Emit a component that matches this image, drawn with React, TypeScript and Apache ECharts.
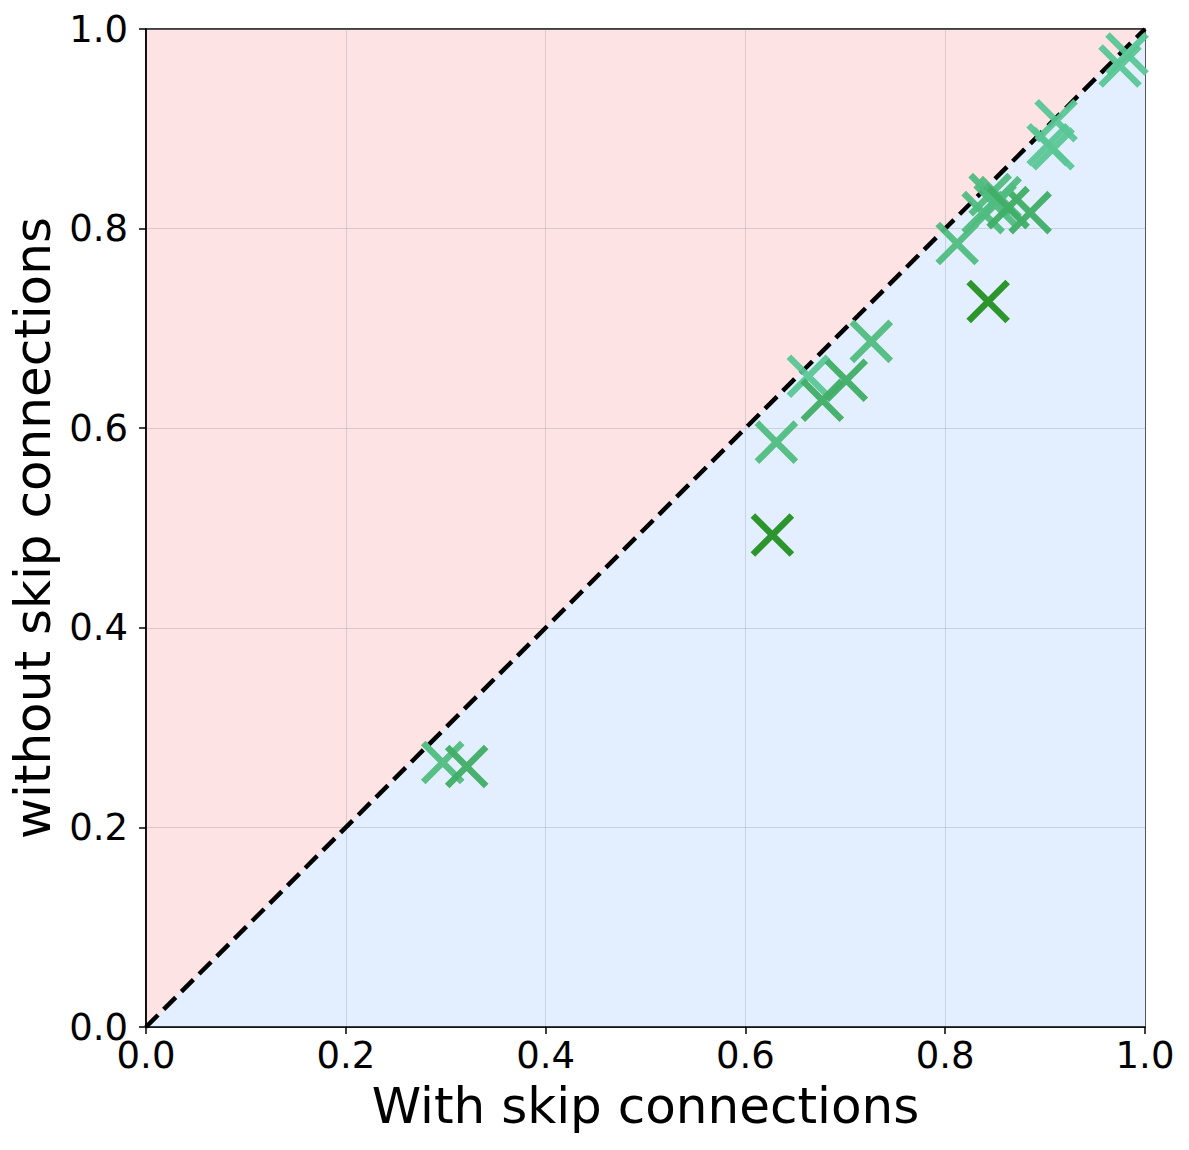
import React, { useEffect, useRef } from "react";
import * as echarts from "echarts";

// Accuracy of each run, with and without skip connections
const withSkip = [0.297, 0.321, 0.627, 0.631, 0.663, 0.677, 0.701, 0.726, 0.812, 0.838, 0.845, 0.850, 0.855, 0.863, 0.885, 0.843, 0.903, 0.908, 0.911, 0.975, 0.982];
const withoutSkip = [0.265, 0.261, 0.493, 0.586, 0.652, 0.628, 0.648, 0.687, 0.785, 0.816, 0.834, 0.824, 0.831, 0.821, 0.816, 0.727, 0.884, 0.880, 0.908, 0.963, 0.975];
// Shade index of each run's marker
const tone = [2, 1, 0, 2, 3, 1, 1, 2, 2, 2, 2, 2, 2, 1, 1, 0, 3, 3, 3, 3, 3];
const toneColors = ["rgba(40,148,40,0.98)", "rgba(66,174,104,0.96)", "rgba(80,188,128,0.95)", "rgba(90,198,150,0.95)"];

const diagonal = [[0, 0], [1, 1]];

const FONT = "DejaVu Sans";
const CROSS = "path://M0,0L10,10M0,10L10,0";

export default function App() {
  const ref = useRef<HTMLDivElement>(null);

  useEffect(() => {
    document.body.style.margin = "0";
    const chart = echarts.init(ref.current!, null, { renderer: "svg" });

    const axisCommon = {
      type: "value" as const,
      min: 0,
      max: 1,
      interval: 0.2,
      z: 3,
      axisLine: { show: true, onZero: false, lineStyle: { color: "#000", width: 1.5 } },
      axisTick: { show: true, inside: false, length: 7, lineStyle: { color: "#000", width: 1.5 } },
      splitLine: { show: true, lineStyle: { color: "rgba(140,140,155,0.3)", width: 1 } },
      nameLocation: "middle" as const,
      nameTextStyle: { fontFamily: FONT, fontSize: 50, color: "#000" },
    };

    chart.setOption({
      animation: false,
      grid: {
        left: 146,
        right: 44,
        top: 29,
        bottom: 123,
        show: true,
        backgroundColor: "#fee3e5",
        borderColor: "#000",
        borderWidth: 1.5,
      },
      xAxis: {
        ...axisCommon,
        name: "With skip connections",
        nameGap: 54,
        axisLabel: {
          fontFamily: FONT,
          fontSize: 37,
          color: "#000",
          margin: 10,
          formatter: (v: number) => v.toFixed(1),
        },
      },
      yAxis: {
        ...axisCommon,
        name: "without skip connections",
        nameGap: 80,
        axisLabel: {
          fontFamily: FONT,
          fontSize: 37,
          color: "#000",
          margin: 18,
          formatter: (v: number) => v.toFixed(1),
        },
      },
      series: [
        {
          type: "line",
          data: diagonal,
          z: 1,
          symbol: "none",
          lineStyle: { width: 0 },
          areaStyle: { color: "#e3effe", opacity: 1, origin: "start" },
          silent: true,
        },
        {
          type: "line",
          data: diagonal,
          z: 4,
          symbol: "none",
          lineStyle: { color: "#000", width: 4.5, type: [17, 8] },
          silent: true,
        },
        {
          type: "scatter",
          z: 5,
          symbol: CROSS,
          symbolSize: 39,
          data: withSkip.map((x, i) => ({
            value: [x, withoutSkip[i]],
            itemStyle: {
              color: "transparent",
              borderColor: toneColors[tone[i]],
              borderWidth: 6.5,
              opacity: 1,
            },
          })),
        },
      ],
    });

    return () => chart.dispose();
  }, []);

  return <div ref={ref} style={{ width: 1189, height: 1150 }} />;
}
